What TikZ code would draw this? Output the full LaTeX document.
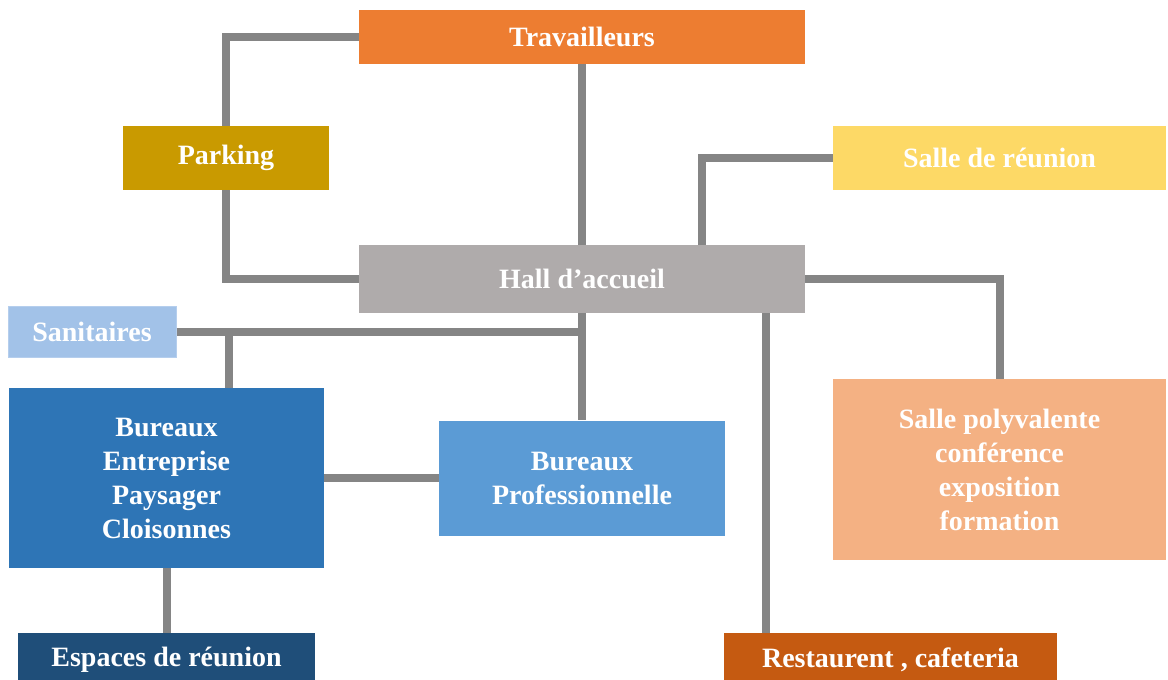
\documentclass[tikz,border=0pt]{standalone}
\usepackage{fontspec}
\setmainfont{Liberation Serif}
\usetikzlibrary{calc}
\definecolor{cTrav}{HTML}{ED7D31}
\definecolor{cPark}{HTML}{C99A00}
\definecolor{cReun}{HTML}{FDD966}
\definecolor{cHall}{HTML}{AFABAB}
\definecolor{cSani}{HTML}{A2C2E8}
\definecolor{cBent}{HTML}{2E75B6}
\definecolor{cBpro}{HTML}{5B9BD5}
\definecolor{cPoly}{HTML}{F4B183}
\definecolor{cEsp}{HTML}{1F4E79}
\definecolor{cRest}{HTML}{C55A11}
\definecolor{cLink}{HTML}{858585}
\tikzset{
  box/.style={rectangle, inner sep=0pt, draw=none, text=white, align=center,
    font=\fontsize{28}{34}\selectfont\bfseries},
  link/.style={draw=cLink, line width=8pt}
}
\begin{document}
\begin{tikzpicture}[x=1pt,y=-1pt]
\useasboundingbox (0,0) rectangle (1168,680);
\clip (0,0) rectangle (1168,680);
\fill[white] (0,0) rectangle (1168,680);

% boxes
\node[box, fill=cTrav, minimum width=446pt, minimum height=54pt] (trav) at (582,37) {Travailleurs};
\node[box, fill=cPark, minimum width=206pt, minimum height=64pt] (park) at (226,158) {Parking};
\node[box, fill=cReun, minimum width=333pt, minimum height=64pt] (reun) at (999.5,158) {Salle de réunion};
\node[box, fill=cHall, minimum width=446pt, minimum height=68pt] (hall) at (582,279) {Hall d’accueil};
\node[box, fill=cSani, draw=cSani!80!white, line width=1pt, minimum width=168pt, minimum height=51pt] (sani) at (92,331.5) {Sanitaires};
\node[box, fill=cBent, minimum width=315pt, minimum height=180pt] (bent) at (166.5,478) {Bureaux\\Entreprise\\Paysager\\Cloisonnes};
\node[box, fill=cBpro, minimum width=286pt, minimum height=115pt] (bpro) at (582,478) {Bureaux\\Professionnelle};
\node[box, fill=cPoly, minimum width=333pt, minimum height=181pt] (poly) at (999.5,469.5) {Salle polyvalente\\conférence\\exposition\\formation};
\node[box, fill=cEsp, minimum width=297pt, minimum height=54pt] (esp) at (166.5,660) {Espaces de réunion};
\node[box, fill=cRest, minimum width=333pt, minimum height=54pt] (rest) at (890.5,660) {Restaurent , cafeteria};

% branch points along box edges
\coordinate (hallR) at ([xshift=120pt]hall.north);
\coordinate (hallD) at ([xshift=184pt]hall.south);
\coordinate (bentT) at ([xshift=62pt]bent.north);

% connectors
\draw[link] (trav.west) -| (park.north);
\draw[link] (trav.south) -- (hall.north);
\draw[link] (park.south) |- (hall.west);
\draw[link] (hallR) |- (reun.west);
\draw[link] (hall.east) -| (poly.north);
\draw[link] (hall.south) -- (bpro.north);
\draw[link] (sani.east) -- (sani.east -| hall.south);
\draw[link] (bentT) -- (bentT |- sani.east);
\draw[link] (bent.east) -- (bpro.west);
\draw[link] (bent.south) -- (esp.north);
\draw[link] (hallD) -- (hallD |- rest.north);
\end{tikzpicture}
\end{document}
